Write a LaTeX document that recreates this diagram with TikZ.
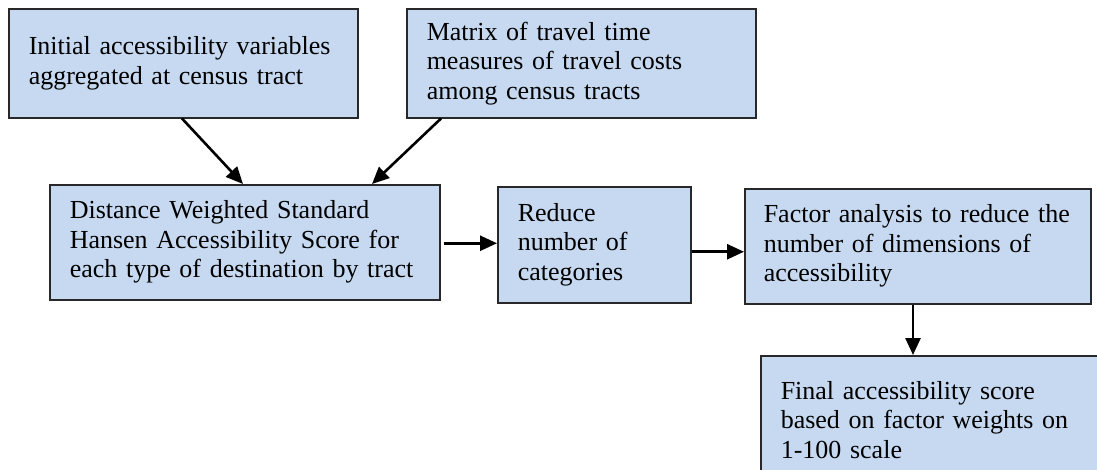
\documentclass[tikz,border=0pt]{standalone}
\usepackage{fontspec}
\setmainfont{Liberation Serif}
\usetikzlibrary{arrows.meta}
\definecolor{boxfill}{RGB}{198,217,240}
\definecolor{boxline}{RGB}{40,40,40}
\tikzset{
  box/.style={draw=boxline, line width=1.5pt, fill=boxfill, anchor=north west,
    inner xsep=20pt, inner ysep=0pt, align=left,
    font=\fontsize{26}{29.5}\selectfont},
  arr/.style={line width=2.6pt, -{Triangle[length=17pt,width=15pt]}}
}
\begin{document}
\begin{tikzpicture}[x=1pt,y=-1pt]
\useasboundingbox (0,0) rectangle (1097,469);
\fill[white] (0,0) rectangle (1097,469);
\node[box, minimum width=349pt, minimum height=109pt, text width=309pt] (A) at (8,8)
  {Initial accessibility variables\\aggregated at census tract};
\node[box, minimum width=349pt, minimum height=109pt, text width=309pt] (B) at (406,8)
  {Matrix of travel time\\measures of travel costs\\among census tracts};
\node[box, minimum width=390pt, minimum height=115pt, text width=350pt] (C) at (49,184)
  {Distance Weighted Standard\\Hansen Accessibility Score for\\each type of destination by tract};
\node[box, minimum width=193pt, minimum height=116pt, text width=153pt] (D) at (497,186)
  {Reduce\\number of\\categories};
\node[box, minimum width=346pt, minimum height=115pt, text width=308pt, inner xsep=19pt] (E) at (744,188)
  {Factor analysis to reduce the\\number of dimensions of\\accessibility};
\node[box, minimum width=360pt, minimum height=128pt, text width=320pt] (F) at (760,355)
  {Final accessibility score\\based on factor weights on\\1-100 scale\\[6pt]};
\draw[arr] ([xshift=174pt]A.south west) -- ([xshift=194pt]C.north west);
\draw[arr] ([xshift=35pt]B.south west) -- ([xshift=323pt]C.north west);
\draw[arr] (C.east) ++(3pt,-1pt) coordinate (c1) (c1) -- (c1 -| D.west);
\draw[arr] ([yshift=-7pt]D.east) -- ([yshift=-7pt]D.east -| E.west);
\draw[arr] ([xshift=169pt]E.south west) -- ([xshift=153pt]F.north west);
\end{tikzpicture}
\end{document}
